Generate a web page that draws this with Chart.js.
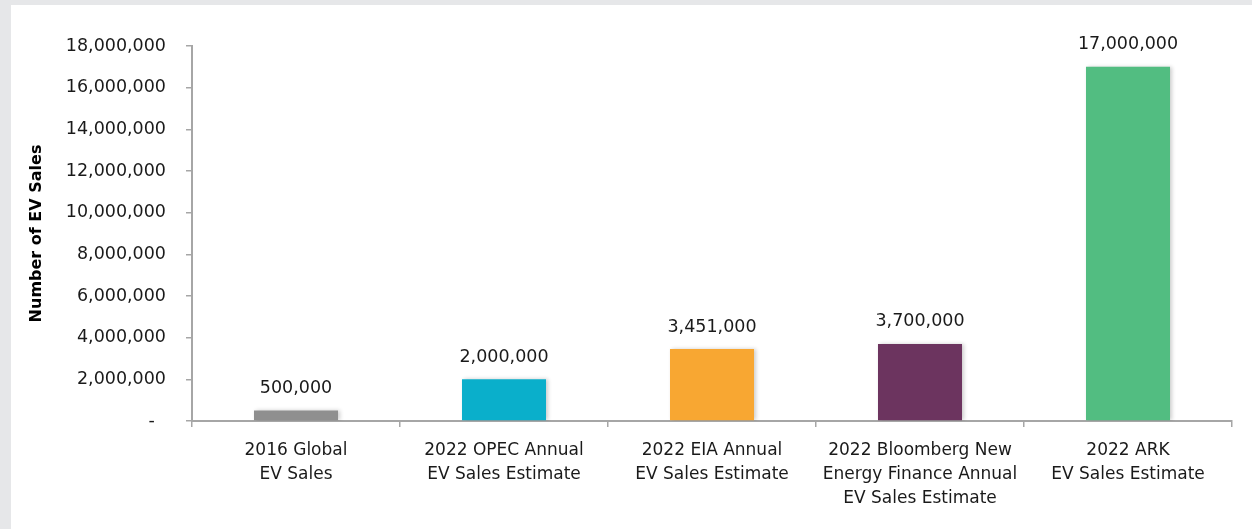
<!DOCTYPE html>
<html>
<head>
<meta charset="utf-8">
<script src="https://cdn.jsdelivr.net/npm/chart.js@4.4.1/dist/chart.umd.min.js"></script>
<style>
  html, body { margin: 0; padding: 0; background: #e6e7e9; width: 1252px; height: 529px; overflow: hidden; }
  #wrap { position: absolute; left: 11px; top: 5px; width: 1241px; height: 524px; background: #ffffff; }
  canvas { display: block; }
</style>
</head>
<body>
<div id="wrap"><canvas id="c" width="1241" height="524"></canvas></div>
<script>
const categories = [
  ["2016 Global", "EV Sales"],
  ["2022 OPEC Annual", "EV Sales Estimate"],
  ["2022 EIA Annual", "EV Sales Estimate"],
  ["2022 Bloomberg New", "Energy Finance Annual", "EV Sales Estimate"],
  ["2022 ARK", "EV Sales Estimate"]
];
const evSales = [500000, 2000000, 3451000, 3700000, 17000000];
const barColors = ["#8f8f8f", "#0aafcb", "#f8a732", "#6c345f", "#52bd81"];
const yAxisTitle = "Number of EV Sales";
const yMin = 0, yMax = 18000000, yStep = 2000000;

const FONT = "'DejaVu Sans', sans-serif";
const axisGray = "#a6a6a6";
const fmt = v => v.toLocaleString('en-US');

const labelPlugin = {
  id: 'barLabels',
  beforeDatasetsDraw(chart) {
    const ctx = chart.ctx;
    ctx.save();
    ctx.shadowColor = 'rgba(0,0,0,0.2)';
    ctx.shadowBlur = 4;
    ctx.shadowOffsetX = 2;
    ctx.shadowOffsetY = 0;
  },
  afterDatasetsDraw(chart) {
    const ctx = chart.ctx;
    ctx.restore();
    ctx.save();
    ctx.font = "17.5px " + FONT;
    ctx.fillStyle = "#1a1a1a";
    ctx.textAlign = "center";
    ctx.textBaseline = "middle";
    const meta = chart.getDatasetMeta(0);
    meta.data.forEach((bar, i) => {
      ctx.fillText(fmt(chart.data.datasets[0].data[i]), bar.x, bar.y - 22);
    });
    ctx.restore();
  }
};

new Chart(document.getElementById('c'), {
  type: 'bar',
  data: {
    labels: categories,
    datasets: [{
      data: evSales,
      backgroundColor: barColors,
      borderWidth: 0,
      categoryPercentage: 1.0,
      barPercentage: 0.404
    }]
  },
  options: {
    responsive: false,
    animation: false,
    events: [],
    layout: { padding: { left: 0, right: 20, top: 41, bottom: 0 } },
    plugins: { legend: { display: false }, tooltip: { enabled: false } },
    scales: {
      x: {
        offset: true,
        grid: { display: true, drawOnChartArea: false, drawTicks: true, tickLength: 6, color: axisGray, lineWidth: 1.5 },
        border: { display: true, color: axisGray, width: 2 },
        ticks: {
          autoSkip: false, maxRotation: 0, minRotation: 0, padding: 12,
          color: "#1a1a1a",
          font: { family: FONT, size: 17, lineHeight: '24px' }
        },
        afterFit(scale) { scale.height = 108; }
      },
      y: {
        min: yMin, max: yMax,
        grid: { display: true, drawOnChartArea: false, drawTicks: true, tickLength: 6, color: axisGray, lineWidth: 1.5 },
        border: { display: true, color: axisGray, width: 2 },
        ticks: {
          stepSize: yStep, padding: 20, color: "#1a1a1a",
          font: { family: FONT, size: 17.5 },
          callback: v => v === 0 ? "-  " : fmt(v)
        },
        title: {
          display: true, text: yAxisTitle, color: "#000000",
          font: { family: FONT, size: 16, weight: 'bold' },
          padding: { top: 16, bottom: 0 }
        },
        afterFit(scale) { scale.width = 181; }
      }
    }
  },
  plugins: [labelPlugin]
});
</script>
</body>
</html>
